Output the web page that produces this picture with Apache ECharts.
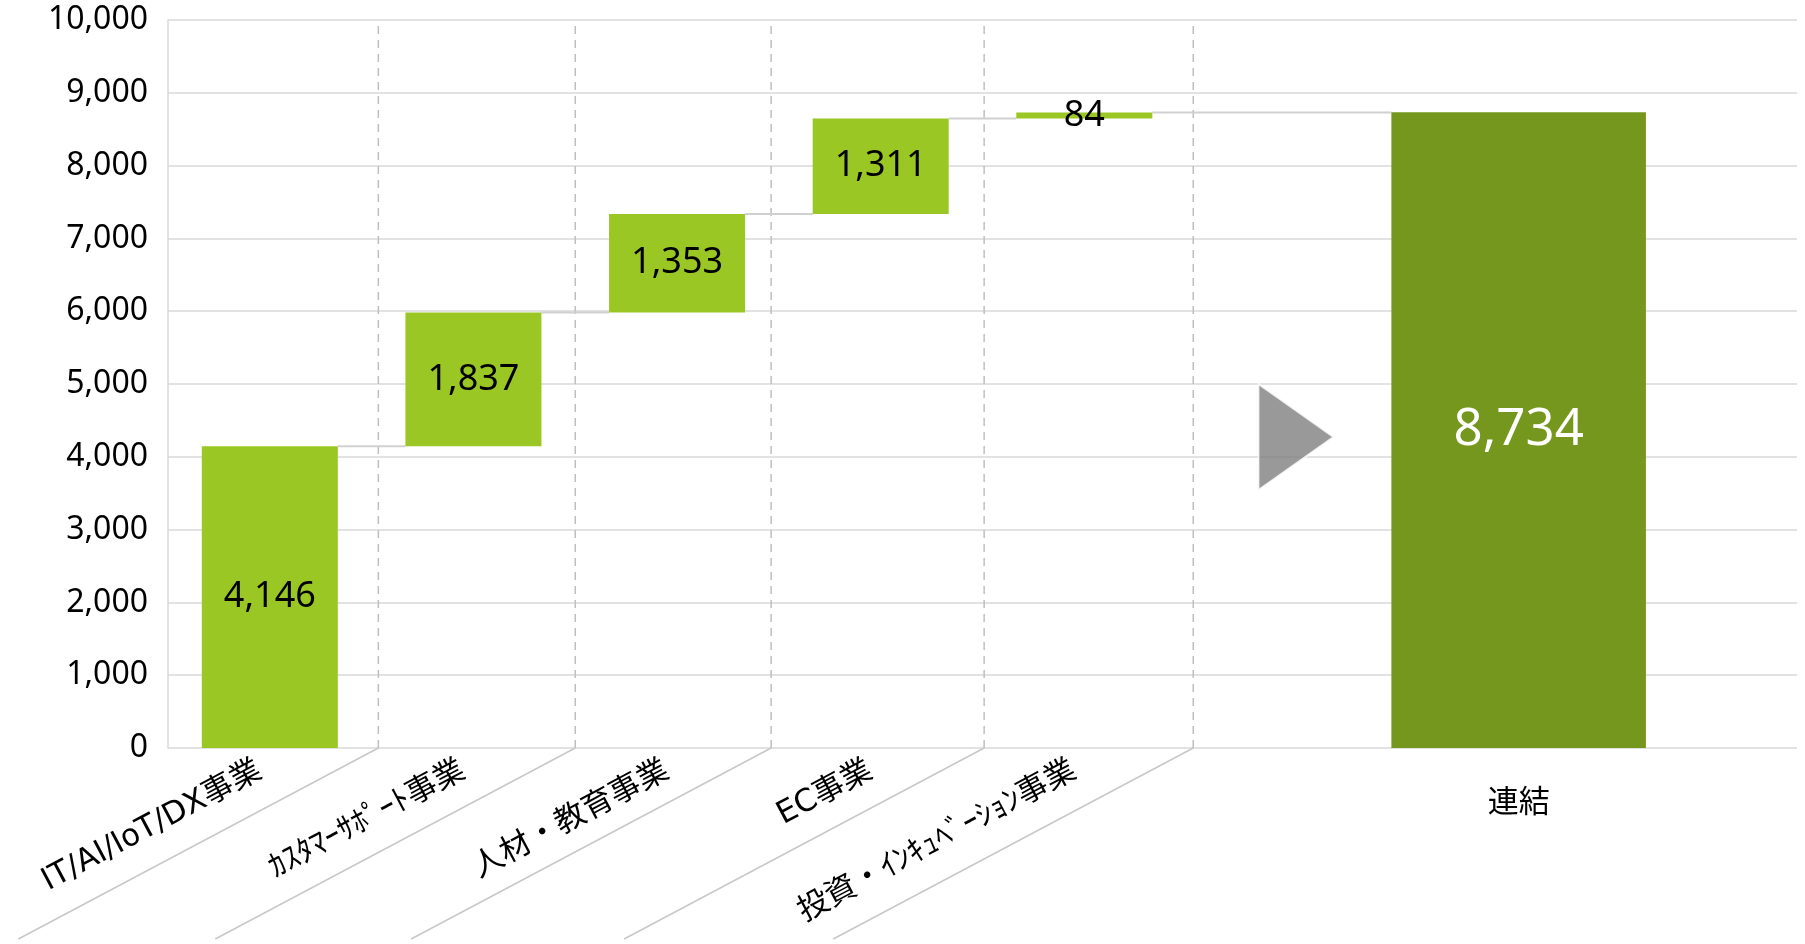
<!DOCTYPE html>
<html>
<head>
<meta charset="utf-8">
<title>セグメント別 ウォーターフォール</title>
<script src="https://cdn.jsdelivr.net/npm/echarts@6/dist/echarts.min.js"></script>
<style>
  html, body { margin: 0; padding: 0; background: #fff; }
  #chart { width: 1805px; height: 944px; }
</style>
</head>
<body>
<div id="chart"></div>
<script>
// セグメント
const categories = ['IT/AI/IoT/DX事業', 'ｶｽﾀﾏｰｻﾎﾟｰﾄ事業', '人材・教育事業', 'EC事業', '投資・ｲﾝｷｭﾍﾞｰｼｮﾝ事業']
const values = [4146, 1837, 1353, 1311, 84]
const totalName = '連結'
const totalValue = 8734
const yTicks = [0, 1000, 2000, 3000, 4000, 5000, 6000, 7000, 8000, 9000, 10000]

// x axis runs 0..8 (one unit per segment slot)
const separatorAt = [1.033, 2.0, 2.962, 4.008, 5.035]
const totalX = 6.633
const barHalf = 0.334
const totalHalf = 0.625

const fmt = v => v.toLocaleString('en-US')

// waterfall bases
const bases = []
let run = 0
values.forEach(v => { bases.push(run); run += v })

const stepData = values.map((v, i) => [i + 0.5, bases[i], bases[i] + v])
stepData.push([totalX, 0, totalValue])

const chart = echarts.init(document.getElementById('chart'))

const option = {
  backgroundColor: '#fff',
  animation: false,
  grid: { left: 168, right: 8, top: 20, bottom: 196, outerBoundsMode: 'none' },
  xAxis: {
    type: 'value',
    min: 0,
    max: 8,
    axisLine: { show: false },
    axisTick: { show: false },
    axisLabel: { show: false },
    splitLine: { show: false }
  },
  yAxis: {
    type: 'value',
    min: yTicks[0],
    max: yTicks[yTicks.length - 1],
    interval: 1000,
    axisLine: { show: true, lineStyle: { color: '#d9d9d9', width: 1.5 } },
    axisTick: { show: false },
    axisLabel: {
      margin: 20,
      color: '#000',
      fontSize: 32,
      fontFamily: 'Noto Sans',
      formatter: v => fmt(v)
    },
    splitLine: { lineStyle: { color: '#d9d9d9', width: 1.5 } }
  },
  series: [
    {
      // separators, slanted tick lines and category labels
      type: 'custom',
      silent: true,
      z: 1,
      data: separatorAt.map((s, i) => [s, i]),
      encode: { x: 0 },
      renderItem: function(params, api) {
        const i = params.dataIndex
        const s = api.value(0)
        const bottom = api.coord([s, yTicks[0]])
        const top = api.coord([s, yTicks[yTicks.length - 1]])
        const labelAt = api.coord([i + 0.5, 0])
        return {
          type: 'group',
          children: [
            {
              type: 'line',
              shape: { x1: bottom[0], y1: bottom[1], x2: top[0], y2: top[1] },
              style: { stroke: '#bfbfbf', lineWidth: 1.5, lineDash: [8, 6] }
            },
            {
              type: 'line',
              shape: { x1: bottom[0], y1: bottom[1], x2: bottom[0] - 360, y2: bottom[1] + 191 },
              style: { stroke: '#c8c8c8', lineWidth: 1.5 }
            },
            {
              type: 'text',
              x: labelAt[0] - 10,
              y: labelAt[1] + 21,
              rotation: 28 * Math.PI / 180,
              style: {
                text: categories[i],
                align: 'right',
                verticalAlign: 'middle',
                fontSize: 31,
                fontFamily: '"DejaVu Sans", "Noto Sans CJK JP"',
                fill: '#000'
              }
            }
          ]
        }
      }
    },
    {
      // waterfall steps + total
      type: 'custom',
      z: 3,
      data: stepData,
      encode: { x: 0, y: [1, 2] },
      renderItem: function(params, api) {
        const i = params.dataIndex
        const isTotal = i === values.length
        const x = api.value(0)
        const half = isTotal ? totalHalf : barHalf
        const p0 = api.coord([x - half, api.value(1)])
        const p1 = api.coord([x + half, api.value(2)])
        const children = []
        if (!isTotal) {
          const nextLeft = i < values.length - 1 ? (i + 1.5 - barHalf) : (totalX - totalHalf)
          const c = api.coord([nextLeft, api.value(2)])
          children.push({
            type: 'line',
            shape: { x1: p1[0], y1: p1[1], x2: c[0], y2: c[1] },
            style: { stroke: '#d0d0d0', lineWidth: 2 }
          })
        } else {
          const lab = api.coord([x, 0])
          children.push({
            type: 'text',
            x: lab[0],
            y: lab[1] + 52,
            style: {
              text: totalName,
              align: 'center',
              verticalAlign: 'middle',
              fontSize: 31,
              fontFamily: 'Noto Sans CJK JP',
              fill: '#000'
            }
          })
        }
        children.push({
          type: 'rect',
          shape: { x: p0[0], y: p1[1], width: p1[0] - p0[0], height: p0[1] - p1[1] },
          style: { fill: isTotal ? '#75971e' : '#9ac724' },
          textContent: {
            style: {
              text: fmt(isTotal ? totalValue : values[i]),
              fontSize: isTotal ? 51 : 36,
              fontFamily: 'Noto Sans',
              fill: isTotal ? '#fff' : '#000'
            }
          },
          textConfig: { position: 'inside' }
        })
        return { type: 'group', children: children }
      }
    },
    {
      // arrow toward consolidated total
      type: 'scatter',
      silent: true,
      z: 2,
      symbol: 'triangle',
      symbolSize: [106, 75],
      symbolRotate: -90,
      itemStyle: { color: '#808080', borderColor: '#fff', borderWidth: 2 },
      data: [[5.54, 4272]]
    }
  ]
}

chart.setOption(option)
</script>
</body>
</html>
